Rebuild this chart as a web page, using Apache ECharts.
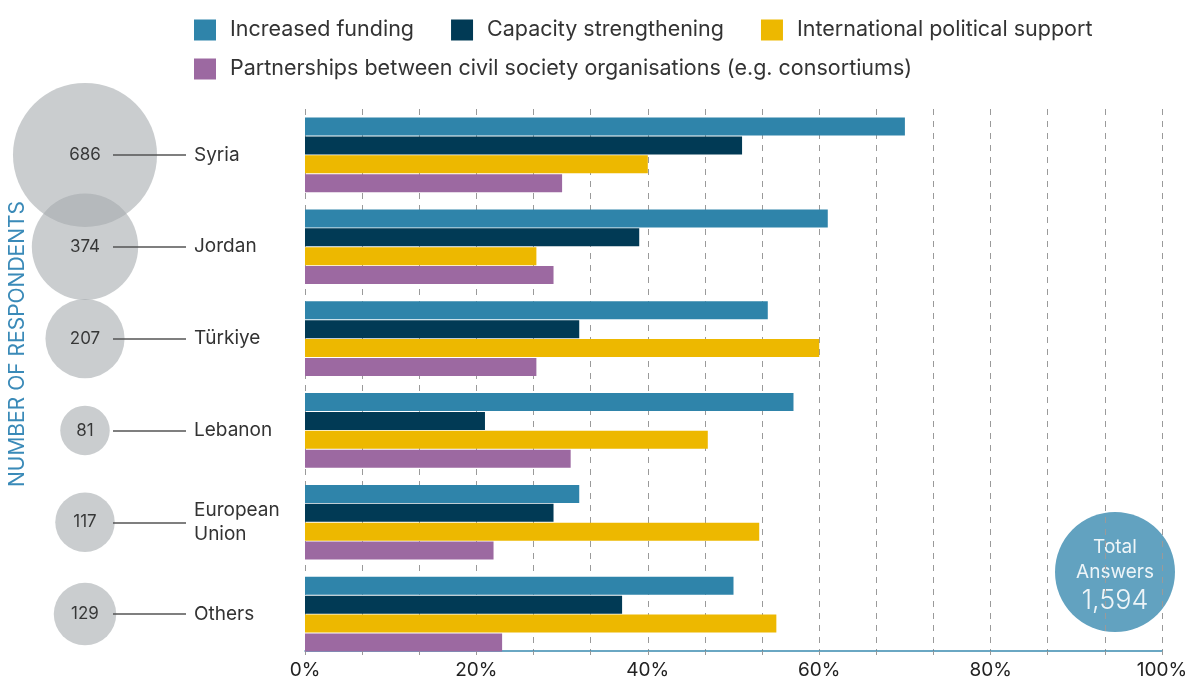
<!DOCTYPE html>
<html>
<head>
<meta charset="utf-8">
<script src="https://cdn.jsdelivr.net/npm/echarts@6/dist/echarts.min.js"></script>
<style>
html,body{margin:0;padding:0;background:#fff;}
#chart{width:1192px;height:681px;}
</style>
</head>
<body>
<div id="chart"></div>
<script>
// ---- data ----
var categories = ['Syria', 'Jordan', 'Türkiye', 'Lebanon', 'European Union', 'Others'];
var respondents = [686, 374, 207, 81, 117, 129];
var seriesNames = ['Increased funding', 'Capacity strengthening', 'International political support', 'Partnerships between civil society organisations (e.g. consortiums)'];
var increasedFunding = [70, 61, 54, 57, 32, 50];
var capacityStrengthening = [51, 39, 32, 21, 29, 37];
var politicalSupport = [40, 27, 60, 47, 53, 55];
var partnerships = [30, 29, 27, 31, 22, 23];
var xTickLabels = ['0%', '20%', '40%', '60%', '80%', '100%'];

var colors = ['#2f84aa', '#013a55', '#edb800', '#9c69a1'];
var FONT = 'Inter';

var total = respondents.reduce(function (a, b) { return a + b; }, 0);
var totalLabel = total.toLocaleString('en-US');

var chart = echarts.init(document.getElementById('chart'));

function barSeries(idx, data) {
  return {
    name: seriesNames[idx],
    type: 'bar',
    xAxisIndex: 0,
    yAxisIndex: 0,
    data: data,
    barWidth: 18,
    barGap: '5%',
    itemStyle: { color: colors[idx] },
    silent: true
  };
}

var legendText = { fontSize: 21.5, lineHeight: 26, color: '#333', fontFamily: FONT, padding: [0, 0, 0, 9] };

// bubble column layout (fractions of the small left grid)
var BUBBLE_X = 0.457, LINE_FROM = 0.6075, LINE_TO = 1.0;

var option = {
  animation: false,
  textStyle: { fontFamily: FONT },
  legend: [
    {
      data: seriesNames.slice(0, 3),
      left: 194, top: 17, padding: 0,
      itemWidth: 22, itemHeight: 21, itemGap: 37,
      icon: 'rect',
      textStyle: legendText
    },
    {
      data: seriesNames.slice(3),
      left: 194, top: 56, padding: 0,
      itemWidth: 22, itemHeight: 21,
      icon: 'rect',
      textStyle: legendText
    }
  ],
  grid: [
    { left: 305, right: 30, top: 109, bottom: 21 },
    { left: 0, width: 186, top: 109, bottom: 21 }
  ],
  xAxis: [
    {
      gridIndex: 0,
      type: 'value',
      min: 0, max: 100, interval: 100 / 15,
      offset: -9,
      axisLine: { show: true, lineStyle: { color: '#3a8ab0', width: 1.5 } },
      axisTick: { show: true, length: 4, lineStyle: { color: '#999' } },
      splitLine: { show: true, lineStyle: { color: '#9a9a9a', type: [6, 6], width: 1 } },
      axisLabel: {
        show: true, margin: 10, fontSize: 19, color: '#222', fontFamily: FONT,
        showMinLabel: true, showMaxLabel: true, hideOverlap: false,
        formatter: function (v) {
          var k = v / 20;
          if (Math.abs(k - Math.round(k)) < 1e-6) return xTickLabels[Math.round(k)];
          return '';
        }
      }
    },
    {
      gridIndex: 1,
      type: 'value', min: 0, max: 1, show: false
    }
  ],
  yAxis: [
    {
      gridIndex: 0,
      type: 'category',
      data: categories,
      inverse: true,
      axisLine: { show: false },
      axisTick: { show: false },
      axisLabel: {
        align: 'left', margin: 111, fontSize: 19, color: '#333', fontFamily: FONT, lineHeight: 24,
        formatter: function (v) { return v.replace(' ', '\n'); }
      }
    },
    {
      gridIndex: 1,
      type: 'category',
      data: categories,
      inverse: true,
      show: false
    }
  ],
  series: [
    barSeries(0, increasedFunding),
    barSeries(1, capacityStrengthening),
    barSeries(2, politicalSupport),
    barSeries(3, partnerships),
    {
      type: 'scatter',
      xAxisIndex: 1, yAxisIndex: 1,
      silent: true,
      data: respondents.map(function (n, i) { return [BUBBLE_X, categories[i], n]; }),
      symbolSize: function (val) { return 5.5 * Math.sqrt(val[2]); },
      itemStyle: { color: 'rgba(166,170,174,0.74)' },
      label: {
        show: true, position: 'inside', fontSize: 17, color: '#111', fontFamily: FONT,
        formatter: function (p) { return p.value[2]; }
      },
      markLine: {
        silent: true,
        symbol: ['none', 'none'],
        label: { show: false },
        lineStyle: { color: '#555', width: 1.5, type: 'solid' },
        data: categories.map(function (c) {
          return [{ coord: [LINE_FROM, c] }, { coord: [LINE_TO, c] }];
        })
      },
      z: 1
    }
  ],
  graphic: [
    {
      type: 'text',
      rotation: Math.PI / 2,
      x: 18, y: 344,
      style: {
        text: 'NUMBER OF RESPONDENTS',
        fill: '#3a8ab8',
        font: '21px ' + FONT,
        textAlign: 'center',
        textVerticalAlign: 'middle'
      }
    },
    {
      type: 'group',
      left: 1055, top: 512,
      children: [
        { type: 'circle', shape: { cx: 60, cy: 60, r: 60 }, style: { fill: '#62a2c0' } },
        { type: 'text', x: 60, y: 35, style: { text: 'Total', fill: '#eef5f8', font: '19px ' + FONT, textAlign: 'center', textVerticalAlign: 'middle' } },
        { type: 'text', x: 60, y: 60, style: { text: 'Answers', fill: '#eef5f8', font: '19px ' + FONT, textAlign: 'center', textVerticalAlign: 'middle' } },
        { type: 'text', x: 60, y: 89, style: { text: totalLabel, fill: '#eef5f8', font: '300 27px ' + FONT, textAlign: 'center', textVerticalAlign: 'middle' } }
      ]
    }
  ]
};

chart.setOption(option);
</script>
</body>
</html>
